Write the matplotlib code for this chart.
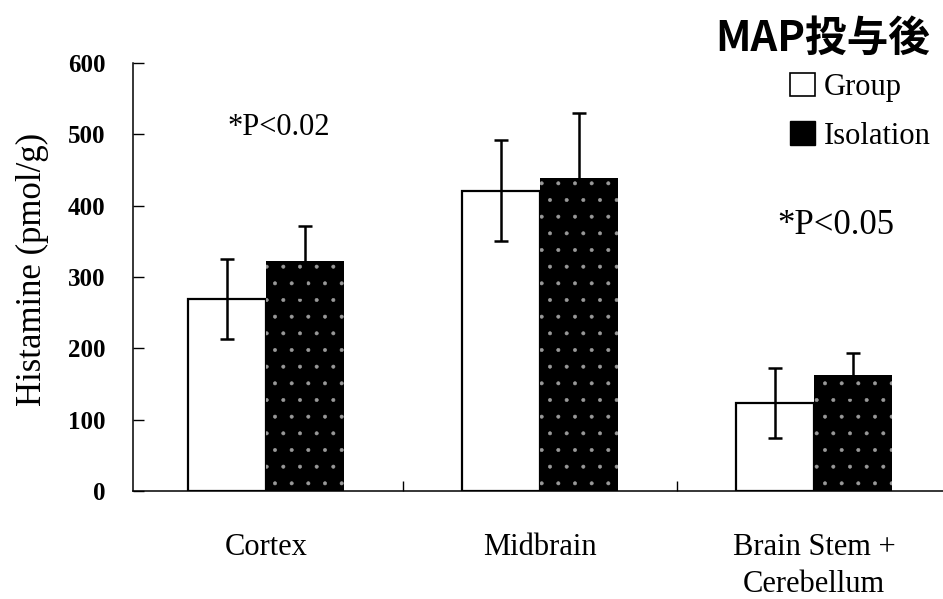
"""Histamine after MAP: Group vs Isolation per brain region."""
import matplotlib
matplotlib.use("Agg")
import matplotlib.pyplot as plt
import numpy as np
from matplotlib.patches import Patch

regions = ["Cortex", "Midbrain", "Brain Stem +\nCerebellum"]
group_mean = [269, 421, 123]
group_err = [56, 71, 49]
iso_mean = [322, 439, 163]
iso_err = [50, 91, 31]
y_ticks = [0, 100, 200, 300, 400, 500, 600]

plt.rcParams["font.family"] = ["Liberation Serif", "DejaVu Serif"]
plt.rcParams["hatch.linewidth"] = 0.4

fig = plt.figure(figsize=(9.43, 5.99), dpi=100)
ax = fig.add_axes([0.141, 0.1803, 0.859, 0.7145])

x = np.arange(len(regions))
w = 0.285
ax.bar(x - w / 2, group_mean, w, color="white", edgecolor="black", linewidth=1.6, zorder=2)
# speckled black bars
ax.bar(x + w / 2, iso_mean, w, color="black", edgecolor="#9a9a9a", linewidth=0, hatch=".", zorder=2)
ax.errorbar(x - w / 2, group_mean, yerr=group_err, fmt="none", ecolor="black",
            elinewidth=1.8, capsize=5, capthick=1.8, zorder=3)
ax.errorbar(x + w / 2, iso_mean, yerr=iso_err, fmt="none", ecolor="black",
            elinewidth=1.8, capsize=5, capthick=1.8, zorder=3)

ax.set_xlim(-0.485, 2.47)
ax.set_ylim(0, 600)
ax.set_yticks(y_ticks)
ax.set_yticklabels([str(t) for t in y_ticks], fontsize=18, fontweight="bold")
ax.tick_params(axis="y", direction="in", length=8, width=1, pad=20)
ax.set_xticks(x)
ax.set_xticklabels(regions, fontsize=22, linespacing=1.4)
ax.tick_params(axis="x", which="major", length=0, pad=30)
ax.set_xticks([0.5, 1.5], minor=True)
ax.tick_params(axis="x", which="minor", direction="in", length=7, width=1)

ax.spines["top"].set_visible(False)
ax.spines["right"].set_visible(False)
for s in ("left", "bottom"):
    ax.spines[s].set_linewidth(1.1)

ax.set_ylabel("Histamine (pmol/g)", fontsize=25)
ax.yaxis.set_label_coords(-0.104, 0.518)

ax.text(0.117, 0.85, "*P<0.02", transform=ax.transAxes, fontsize=22, ha="left", va="center")
ax.text(0.795, 0.62, "*P<0.05", transform=ax.transAxes, fontsize=25, ha="left", va="center")

fig.text(0.986, 0.936, "MAP投与後", fontsize=30, fontweight="bold", ha="right", va="center",
         family=["Noto Sans CJK JP", "DejaVu Sans"])

handles = [Patch(facecolor="white", edgecolor="black", linewidth=1.2),
           Patch(facecolor="black", edgecolor="black")]
ax.legend(handles, ["Group", "Isolation"], loc="upper left", bbox_to_anchor=(0.838, 0.878),
          bbox_transform=fig.transFigure, frameon=False, fontsize=22,
          handlelength=0.8, handleheight=0.8, handletextpad=0.3, labelspacing=0.62,
          borderpad=0, borderaxespad=0)

fig.savefig("out.png", dpi=100)
